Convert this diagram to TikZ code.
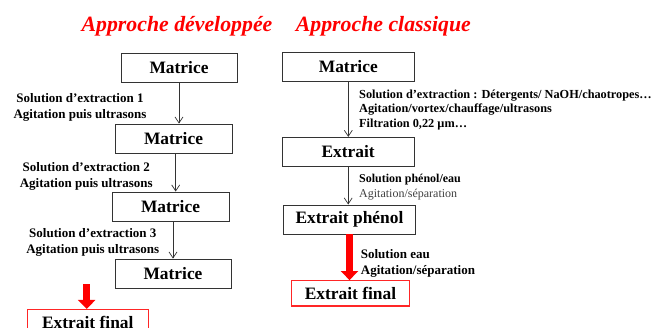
\documentclass[tikz,border=0pt]{standalone}
\usepackage{fontspec}
\setmainfont{Liberation Serif}
\usetikzlibrary{arrows.meta}
\begin{document}
\begin{tikzpicture}[x=1pt,y=-1pt,
 box/.style={draw=black!80, line width=0.9pt, inner sep=0pt, font=\fontsize{17.4}{20}\selectfont\bfseries},
 redbox/.style={box, draw=red!85!white, line width=1.1pt},
 flow/.style={draw=black!80, line width=0.7pt, -{Straight Barb[length=6pt,width=8pt]}},
 bigflow/.style={draw=red, line width=7.5pt, -{Triangle[length=9pt,width=17pt]}},
 lab/.style={inner sep=0pt, font=\fontsize{13}{16}\selectfont\bfseries},
 rlab/.style={inner sep=0pt, anchor=west, align=left},
 title/.style={inner sep=0pt, anchor=base, text=red, font=\fontsize{21.8}{24}\selectfont\bfseries\itshape}]
\useasboundingbox (0,0) rectangle (669,327);
% titles
\node[title] (t1) at (177,31.7) {Approche développée};
\node[title] (t2) at (383.4,31.7) {Approche classique};
% left column
\node[box, minimum width=116pt, minimum height=29pt] (m1) at (179,67.5) {Matrice};
\node[box, minimum width=117pt, minimum height=29pt] (m2) at (173.5,138.5) {Matrice};
\node[box, minimum width=117pt, minimum height=29pt] (m3) at (170.5,206.5) {Matrice};
\node[box, minimum width=116pt, minimum height=29pt] (m4) at (173,273.5) {Matrice};
\node[redbox, minimum width=121pt, minimum height=25pt] (ef1) at (87.8,322) {Extrait final};
\draw[flow] (m1.south) -- (m1.south |- m2.north);
\draw[flow] ([xshift=2.2pt]m2.south) -- ([xshift=2.2pt]m2.south |- m3.north);
\draw[flow] ([xshift=2.5pt]m3.south) -- ([xshift=2.5pt]m3.south |- m4.north);
\coordinate (rs) at (86.7,284);
\draw[bigflow] (rs) -- (rs |- ef1.north);
\node[lab, align=center] (l1) at (80,107) {Solution d’extraction 1\\Agitation puis ultrasons};
\node[lab, align=center] (l2) at (86.3,176) {Solution d’extraction 2\\Agitation puis ultrasons};
\node[lab, align=center] (l3) at (92.8,242.6) {Solution d’extraction 3\\Agitation puis ultrasons};
% right column
\node[box, minimum width=132pt, minimum height=29.4pt] (mr) at (348.3,67) {Matrice};
\node[box, minimum width=132pt, minimum height=28.7pt] (ex) at (348.2,151.7) {Extrait};
\node[box, minimum width=132.4pt, minimum height=29pt] (ep) at (349.5,219.5) {Extrait phénol};
\node[redbox, minimum width=117.6pt, minimum height=25.3pt] (ef2) at (350.5,293.3) {Extrait final};
\draw[flow] (mr.south) -- (mr.south |- ex.north);
\draw[flow] (ex.south) -- (ex.south |- ep.north);
\draw[bigflow] (ep.south) -- (ep.south |- ef2.north);
\node[rlab, font=\fontsize{12.3}{14.5}\selectfont\bfseries] (r1) at (359,109.8) {Solution d’extraction : Détergents/ NaOH/chaotropes…\\Agitation/vortex/chauffage/ultrasons\\Filtration 0,22 µm…};
\node[rlab, font=\fontsize{12}{14.3}\selectfont\bfseries] (r2) at (359,187) {Solution phénol/eau\\{\mdseries\color{black!75}Agitation/séparation}};
\node[rlab, font=\fontsize{13}{16}\selectfont\bfseries] (r3) at (360.7,263) {Solution eau\\Agitation/séparation};
\end{tikzpicture}
\end{document}
